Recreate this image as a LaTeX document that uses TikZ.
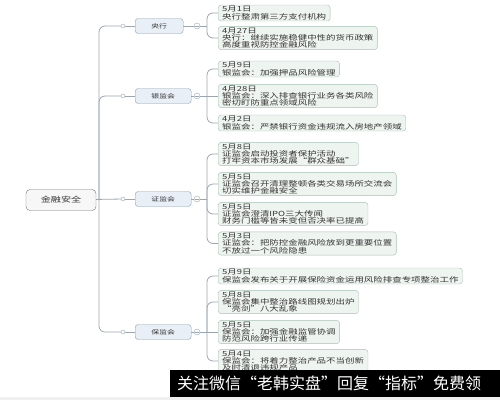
\documentclass[tikz,border=0pt]{standalone}
\usepackage{fontspec}
\setmainfont{Noto Sans CJK SC}
\newfontfamily\leaffont[FakeStretch=1.35]{Noto Sans CJK SC}
\usetikzlibrary{positioning}
\definecolor{linegray}{HTML}{9BA6B2}
\definecolor{leafgreen}{HTML}{EEF4F0}
\definecolor{leafedge}{HTML}{A9C1B4}
\definecolor{topblue}{HTML}{E9EFF6}
\definecolor{topedge}{HTML}{8E9DB0}
\definecolor{textgray}{HTML}{333333}
\tikzstyle{root} = [rectangle, rounded corners=4pt, minimum width=70pt, minimum height=21pt, text centered, fill=gray!6, draw=black!55, font=\leaffont\fontsize{7.5}{8}\selectfont, text=textgray]
\tikzstyle{top} = [rectangle, rounded corners=3pt, minimum width=56pt, minimum height=15pt, anchor=west, text centered, fill=topblue, draw=topedge, font=\leaffont\fontsize{5.8}{6}\selectfont, text=textgray]
\tikzstyle{leaf} = [rectangle, rounded corners=3pt, anchor=west, align=left, inner xsep=4pt, inner ysep=1.3pt, fill=leafgreen, draw=leafedge, font=\leaffont\fontsize{7}{7.3}\selectfont, text=textgray]
\tikzstyle{knob} = [circle, draw=linegray, fill=white, minimum size=4pt, inner sep=0pt]
\tikzstyle{fold} = [circle, draw=linegray, fill=white, minimum size=6pt, inner sep=0pt, path picture={\draw[linegray, line width=0.5pt] ([xshift=1.3pt]path picture bounding box.west) -- ([xshift=-1.3pt]path picture bounding box.east);}]
\tikzstyle{line} = [line width=0.8pt, draw=linegray]
\tikzstyle{branch} = [line, rounded corners=6pt]

\begin{document}
\begin{tikzpicture}[x=1pt, y=-1pt]
\useasboundingbox (0,0) rectangle (500,400);

% Main script
\node (main) [root] at (61,200) {金融安全};
\coordinate (trunk) at (99,200);

\node (pboc) [top, minimum width=48pt] at (135,26) {央行};
\node (cbrc) [top] at (135,96) {银监会};
\node (csrc) [top] at (135,199) {证监会};
\node (circ) [top] at (135,332) {保监会};

\node (pbocK) [knob] at (123,26) {};
\node (cbrcK) [knob] at (123,96) {};
\node (csrcK) [knob] at (123,199) {};
\node (circK) [knob] at (123,332) {};

\node (pbocF) [fold] at (197,26) {};
\node (cbrcF) [fold] at (197,96) {};
\node (csrcF) [fold] at (197,199) {};
\node (circF) [fold] at (197,332) {};

\coordinate (pbocT) at (207,26);
\coordinate (cbrcT) at (207,96);
\coordinate (csrcT) at (207,199);
\coordinate (circT) at (207,332);

% Leaves
\node (pboc1) [leaf] at (218,13) {5月1日\\央行整肃第三方支付机构};
\node (pboc2) [leaf] at (218,38) {4月27日\\央行：继续实施稳健中性的货币政策\\高度重视防控金融风险};

\node (cbrc1) [leaf] at (218,69) {5月9日\\银监会：加强押品风险管理};
\node (cbrc2) [leaf] at (218,96) {4月28日\\银监会：深入排查银行业务各类风险\\密切盯防重点领域风险};
\node (cbrc3) [leaf] at (218,123) {4月2日\\银监会：严禁银行资金违规流入房地产领域};

\node (csrc1) [leaf] at (218,154) {5月8日\\证监会启动投资者保护活动\\打牢资本市场发展“群众基础”};
\node (csrc2) [leaf] at (218,184) {5月5日\\证监会召开清理整顿各类交易场所交流会\\切实维护金融安全};
\node (csrc3) [leaf] at (218,214) {5月5日\\证监会澄清IPO三大传闻\\财务门槛等皆未变但否决率已提高};
\node (csrc4) [leaf] at (218,243.5) {5月3日\\证监会：把防控金融风险放到更重要位置\\不放过一个风险隐患};

\node (circ1) [leaf] at (218,276) {5月9日\\保监会发布关于开展保险资金运用风险排查专项整治工作};
\node (circ2) [leaf] at (218,302) {5月8日\\保监会集中整治路线图规划出炉\\“亮剑”八大乱象};
\node (circ3) [leaf] at (218,332) {5月5日\\保监会：加强金融监管协调\\防范风险跨行业传递};
\node (circ4) [leaf] at (218,361) {5月4日\\保监会：将着力整治产品不当创新\\及时清退违规产品};

% first level
\draw[line] (main) -- (csrcK);
\draw[branch] (trunk) |- (pbocK);
\draw[branch] (trunk) |- (cbrcK);
\draw[branch] (trunk) |- (circK);
\draw[line] (pbocK) -- (pboc);
\draw[line] (cbrcK) -- (cbrc);
\draw[line] (csrcK) -- (csrc);
\draw[line] (circK) -- (circ);

\draw[line] (pboc) -- (pbocF);
\draw[line] (cbrc) -- (cbrcF);
\draw[line] (csrc) -- (csrcF);
\draw[line] (circ) -- (circF);
\draw[line] (pbocF) -- (pbocT);
\draw[line] (cbrcF) -- (cbrcT);
\draw[line] (csrcF) -- (csrcT);
\draw[line] (circF) -- (circT);

% second level
\draw[branch] (pbocT) |- (pboc1);
\draw[branch] (pbocT) |- (pboc2);
\draw[branch] (cbrcT) |- (cbrc1);
\draw[line] (cbrcT) -- (cbrc2);
\draw[branch] (cbrcT) |- (cbrc3);
\draw[branch] (csrcT) |- (csrc1);
\draw[branch] (csrcT) |- (csrc2);
\draw[branch] (csrcT) |- (csrc3);
\draw[branch] (csrcT) |- (csrc4);
\draw[branch] (circT) |- (circ1);
\draw[branch] (circT) |- (circ2);
\draw[line] (circT) -- (circ3);
\draw[branch] (circT) |- (circ4);

% banner
\fill[gray!12] (0,397) rectangle (500,400);
\node (banner) [fill=black, minimum width=330pt, minimum height=27pt, inner sep=0pt, anchor=north west] at (170,370) {};
\node (bannerText) [anchor=west, text=white, inner sep=0pt, font=\fontsize{16}{16}\selectfont] at (177,383.5) {关注微信“老韩实盘”回复“指标”免费领};

\end{tikzpicture}
\end{document}
